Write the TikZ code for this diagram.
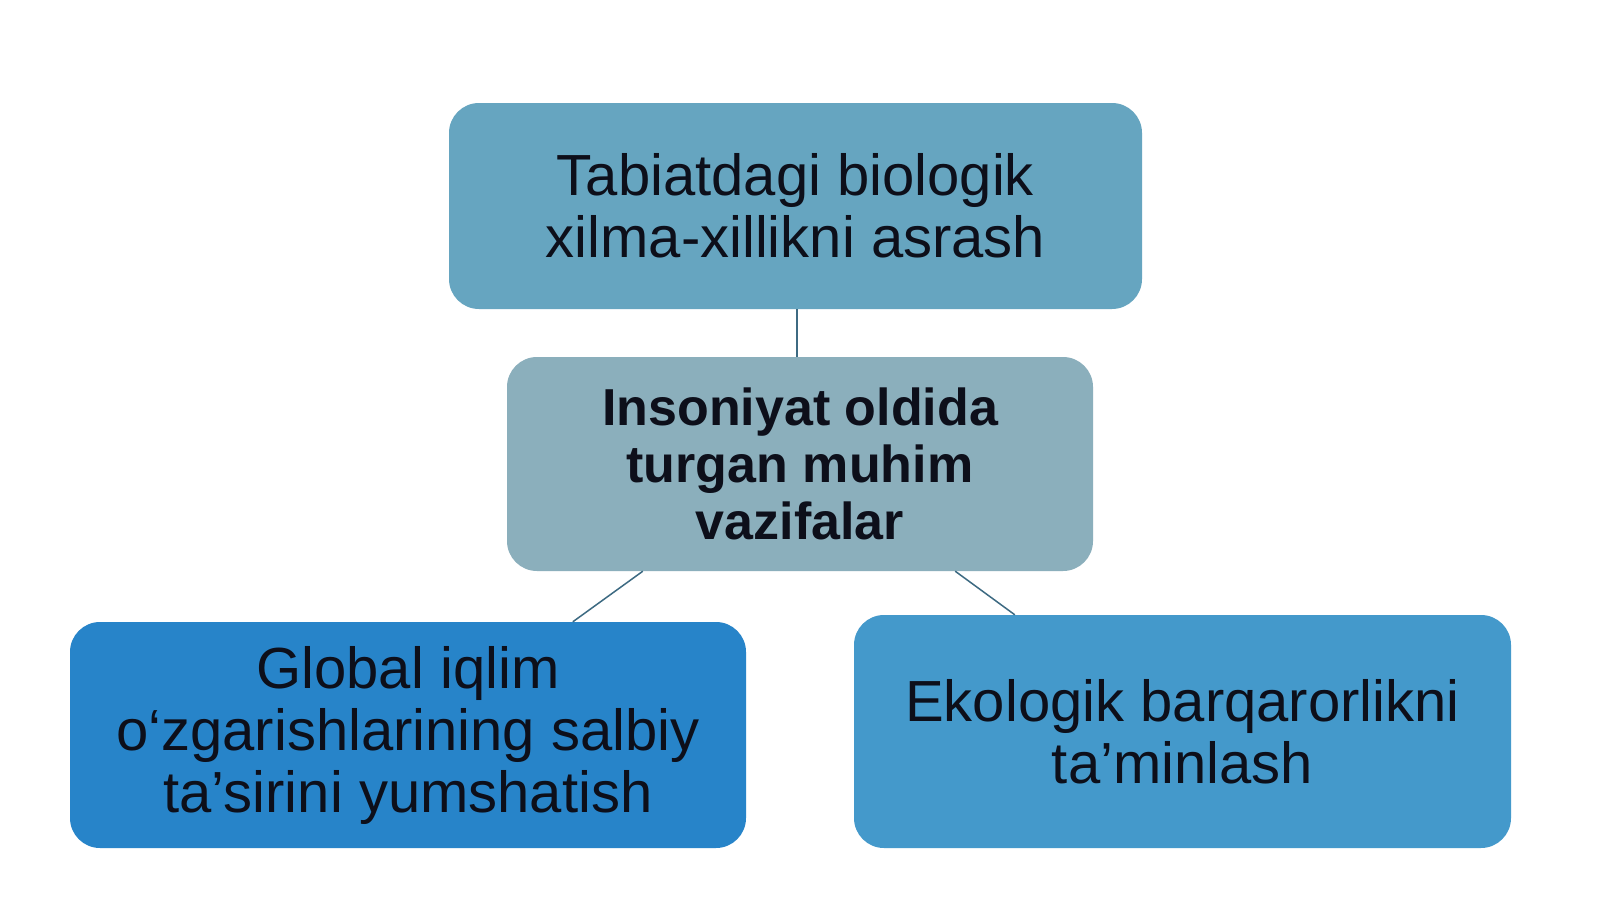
\documentclass[tikz,border=0pt]{standalone}
\usepackage{fontspec}
\setmainfont{Liberation Sans}
\usetikzlibrary{calc}
\definecolor{cTop}{HTML}{66A5C0}
\definecolor{cMid}{HTML}{8BAFBC}
\definecolor{cLeft}{HTML}{2784C9}
\definecolor{cRight}{HTML}{4499CB}
\definecolor{cText}{HTML}{0D0F1A}
\definecolor{cLine}{HTML}{3D6A82}
\begin{document}
\begin{tikzpicture}[x=1pt,y=-1pt,
  box/.style={rounded corners=30pt,inner sep=0pt,align=center,text=cText},
  conn/.style={draw=cLine,line width=1.5pt}]
\useasboundingbox[fill=white] (0,0) rectangle (1600,899);
\node[box,fill=cTop,minimum width=693pt,minimum height=206pt,font=\fontsize{58}{62}\selectfont] (top) at (795.5,206)
  {Tabiatdagi biologik\\xilma-xillikni asrash};
\node[box,fill=cMid,minimum width=586pt,minimum height=214pt,font=\fontsize{52}{57}\selectfont\bfseries] (mid) at (800,464)
  {Insoniyat oldida\\turgan muhim\\vazifalar};
\node[box,fill=cLeft,minimum width=676pt,minimum height=226pt,font=\fontsize{58}{62}\selectfont] (left) at (408,735)
  {Global iqlim\\o‘zgarishlarining salbiy\\ta’sirini yumshatish};
\node[box,fill=cRight,minimum width=657pt,minimum height=233pt,font=\fontsize{58}{62}\selectfont] (right) at (1182.5,731.5)
  {Ekologik barqarorlikni\\ta’minlash};
\draw[conn] ($(top.south)+(1.5,0)$) -- ($(mid.north)+(-3,0)$);
\draw[conn] ($(mid.south west)+(136,0)$) -- ($(left.north west)+(503,0)$);
\draw[conn] ($(mid.south east)+(-138,0)$) -- ($(right.north west)+(161,0)$);
\end{tikzpicture}
\end{document}
